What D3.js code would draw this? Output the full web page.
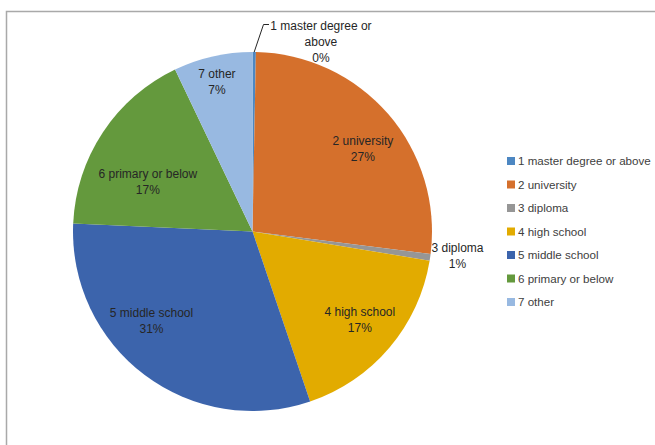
<!DOCTYPE html>
<html lang="en">
    <head>
        <meta charset="utf-8">
        <title>Education pie</title>
        <script type="text/javascript" src="https://d3js.org/d3.v7.min.js"></script>
        <style type="text/css">
          body { margin: 0; background: #fff; }
          text { font-family: "Liberation Sans", Arial, sans-serif; font-size: 12px; }
          .leg text { font-size: 11.6px; }
        </style>
    </head>
    <body>
        <svg width="655" height="445"></svg>
        <script type="text/javascript">

            const svg = d3.select("svg");
            const w = 655;
            const h = 445;

            // data
            const categories = ["1 master degree or above", "2 university", "3 diploma",
                                "4 high school", "5 middle school", "6 primary or below", "7 other"];
            const values = [0.3, 26.7, 0.6, 17.2, 30.9, 17.2, 7.1];
            const shownPct = ["0%", "27%", "1%", "17%", "31%", "17%", "7%"];
            const colors = ["#4d87c2", "#d5702c", "#969696", "#e2ab00", "#3c64ac", "#64993d", "#98b9e1"];

            // label placement (angle in degrees from 12 o'clock, radius as fraction of pie radius)
            const labelAngle = [19.8, 53, 96.8, 129.5, 228.6, 295.3, 346.6];
            const labelRadius = [1.125, 0.77, 1.15, 0.775, 0.75, 0.645, 0.855];
            const labelLines = [["1 master degree or", "above"], ["2 university"], ["3 diploma"],
                                ["4 high school"], ["5 middle school"], ["6 primary or below"], ["7 other"]];

            // frame
            svg.append("rect")
               .attr("x", 6.5).attr("y", 11.5)
               .attr("width", 700).attr("height", 500)
               .attr("fill", "none")
               .attr("stroke", "#a9a9a9")
               .attr("stroke-width", 1.5);

            const cx = 252.5, cy = 231.5, R = 179.5;
            const g = svg.append("g").attr("transform", `translate(${cx},${cy})`);

            const pie = d3.pie().sort(null).value(d => d);
            const arcs = pie(values);
            const arc = d3.arc().innerRadius(0).outerRadius(R);

            g.selectAll("path")
             .data(arcs)
             .join("path")
             .attr("d", arc)
             .attr("fill", (d, i) => colors[i]);

            // leader line for the tiny first slice
            const a0 = (arcs[0].startAngle + arcs[0].endAngle) / 2;
            g.append("polyline")
             .attr("points", [
                [Math.sin(a0) * R, -Math.cos(a0) * R],
                [11, -207],
                [16.5, -207]
             ].map(p => p.join(",")).join(" "))
             .attr("fill", "none")
             .attr("stroke", "#262626")
             .attr("stroke-width", 1);

            // data labels
            const lbl = g.selectAll("g.lbl")
                         .data(arcs)
                         .join("g")
                         .attr("class", "lbl")
                         .attr("transform", (d, i) => {
                            const a = labelAngle[i] * Math.PI / 180;
                            const r = labelRadius[i] * R;
                            return `translate(${Math.sin(a) * r},${-Math.cos(a) * r})`;
                         });

            lbl.each(function(d, i) {
                const lines = labelLines[i].concat([shownPct[i]]);
                const t = d3.select(this).append("text")
                            .attr("text-anchor", "middle")
                            .attr("fill", "#262626");
                const y0 = -(lines.length - 1) * 16 / 2;
                lines.forEach((s, k) => {
                    t.append("tspan")
                     .attr("x", 0)
                     .attr("y", y0 + k * 16)
                     .attr("dy", "0.35em")
                     .text(s);
                });
            });

            // legend
            const legY = d3.scalePoint().domain(categories).range([161, 302]);
            const leg = svg.selectAll("g.leg")
                           .data(categories)
                           .join("g")
                           .attr("class", "leg")
                           .attr("transform", d => `translate(507,${legY(d)})`);

            leg.append("rect")
               .attr("x", 0).attr("y", -4)
               .attr("width", 8).attr("height", 8)
               .attr("fill", (d, i) => colors[i]);

            leg.append("text")
               .attr("x", 11)
               .attr("dy", "0.35em")
               .attr("fill", "#404040")
               .text(d => d);

        </script>
    </body>
</html>
